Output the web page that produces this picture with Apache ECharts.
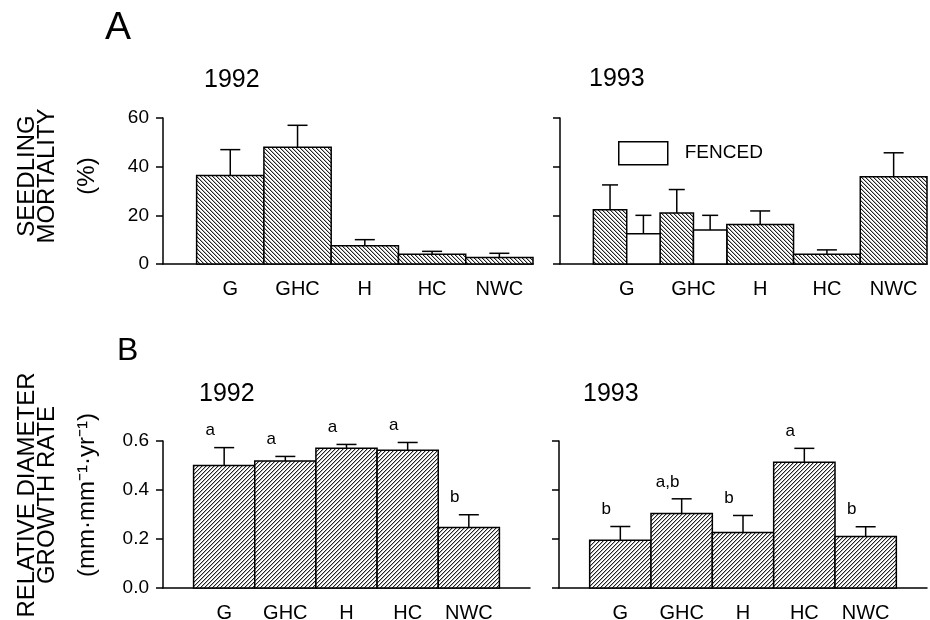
<!DOCTYPE html>
<html>
<head>
<meta charset="utf-8">
<script src="https://cdn.jsdelivr.net/npm/echarts@6/dist/echarts.min.js"></script>
<style>
  html, body { margin: 0; padding: 0; background: #fff; }
  #chart { width: 930px; height: 620px; }
</style>
</head>
<body>
<div id="chart"></div>
<script>
// categories and values
const categories = ['G', 'GHC', 'H', 'HC', 'NWC'];

// A: seedling mortality (%)
const mort92 = [36.4, 48.0, 7.5, 4.0, 2.7];
const mort92Err = [10.6, 9.0, 2.5, 1.2, 1.7];
const mort93 = [22.3, 21.0, 16.2, 4.0, 35.9];
const mort93Err = [10.2, 9.6, 5.6, 1.8, 9.8];
const fenced93 = [12.4, 14.0, null, null, null];
const fenced93Err = [7.6, 6.0, null, null, null];

// B: relative diameter growth rate
const growth92 = [0.500, 0.518, 0.570, 0.562, 0.247];
const growth92Err = [0.073, 0.019, 0.016, 0.032, 0.052];
const growth93 = [0.195, 0.304, 0.227, 0.513, 0.210];
const growth93Err = [0.056, 0.060, 0.069, 0.057, 0.040];
const letters92 = ['a', 'a', 'a', 'a', 'b'];
const letters93 = ['b', 'a,b', 'b', 'a', 'b'];

const FONT = '"Liberation Sans", Arial, Helvetica, sans-serif';

// diagonal hatch tile, dir 1 = "\\\\", dir -1 = "////"
function hatch(dir) {
    let c = document.createElement('canvas');
    c.width = 4; c.height = 4;
    let ctx = c.getContext('2d');
    ctx.fillStyle = '#fff';
    ctx.fillRect(0, 0, 4, 4);
    for (let i = 0; i < 4; i++) {
        let x = dir > 0 ? i : 3 - i;
        ctx.fillStyle = '#222';
        ctx.fillRect(x, i, 1, 1);
        ctx.fillStyle = '#b4b4b4';
        ctx.fillRect((x + 1) % 4, i, 1, 1);
    }
    return { image: c, repeat: 'repeat' };
}
const hatchBack = hatch(1);
const hatchFwd = hatch(-1);

// x extent of each bar (in category units)
function spans(split, part) {
    return categories.map((c, i) => {
        if (!split[i]) return [i - 0.5, i + 0.5];
        return part == 0 ? [i - 0.5, i] : [i, i + 0.5];
    });
}

function barSeries(name, axis, sp, values, errs, letters, fill) {
    let data = [];
    values.forEach((v, i) => {
        if (v == null) return;
        data.push([sp[i][0], sp[i][1], v, errs[i], i]);
    });
    return {
        type: 'custom',
        name: name,
        xAxisIndex: axis,
        yAxisIndex: axis,
        data: data,
        encode: { x: [0, 1], y: 2 },
        itemStyle: { color: fill.image ? '#888' : fill },
        renderItem: (params, api) => {
            let x0 = api.value(0), x1 = api.value(1), v = api.value(2), e = api.value(3);
            let idx = api.value(4);
            let p0 = api.coord([x0, v]);
            let p1 = api.coord([x1, 0]);
            let cx = (p0[0] + p1[0]) / 2;
            let pe = api.coord([(x0 + x1) / 2, v + e]);
            let w = p1[0] - p0[0];
            let cap = w > 50 ? 10 : 8;
            let children = [
                {
                    type: 'rect',
                    shape: { x: p0[0], y: p0[1], width: w, height: p1[1] - p0[1] },
                    style: { fill: fill, stroke: '#000', lineWidth: 1.5 }
                },
                {
                    type: 'line',
                    shape: { x1: cx, y1: p0[1], x2: cx, y2: pe[1] },
                    style: { stroke: '#000', lineWidth: 1.5 }
                },
                {
                    type: 'line',
                    shape: { x1: cx - cap, y1: pe[1], x2: cx + cap, y2: pe[1] },
                    style: { stroke: '#000', lineWidth: 1.5 }
                }
            ];
            if (letters) {
                children.push({
                    type: 'text',
                    style: {
                        text: letters[idx], x: cx - 14, y: pe[1] - 17,
                        align: 'center', verticalAlign: 'middle',
                        font: '17px ' + FONT, fill: '#000'
                    }
                });
            }
            return { type: 'group', children: children };
        }
    };
}

function xAxis(grid, max) {
    return {
        type: 'value', gridIndex: grid, min: -1, max: max, interval: 1,
        splitLine: { show: false },
        axisTick: { show: false },
        axisLine: { onZero: false, lineStyle: { color: '#000', width: 1.5 } },
        axisLabel: {
            margin: 15, color: '#000', fontSize: 20, fontFamily: FONT,
            formatter: (v) => (Number.isInteger(v) && v >= 0 && v < categories.length) ? categories[v] : ''
        }
    };
}

function yAxis(grid, max, interval, showLabels, name, shift, digits) {
    return {
        type: 'value', gridIndex: grid, min: 0, max: max, interval: interval,
        splitLine: { show: false },
        axisLine: { show: true, onZero: false, lineStyle: { color: '#000', width: 1.5 } },
        axisTick: { show: true, inside: false, length: 7, lineStyle: { color: '#000', width: 1.5 } },
        axisLabel: {
            show: showLabels, margin: 14, color: '#000', fontSize: 19, fontFamily: FONT,
            formatter: (v) => v.toFixed(digits)
        },
        name: name,
        nameLocation: 'middle',
        nameRotate: 90,
        nameGap: 66,
        nameTextStyle: {
            color: '#000', fontSize: 24, fontFamily: FONT, lineHeight: 20,
            padding: [0, 0, 0, shift]
        }
    };
}

let split93 = fenced93.map((v) => v != null);

let option = {
    animation: false,
    backgroundColor: '#fff',
    title: [
        { text: 'A', left: 105, top: 9, padding: 0, textStyle: { fontSize: 39, fontWeight: 'normal', color: '#000', fontFamily: FONT } },
        { text: 'B', left: 117, top: 335, padding: 0, textStyle: { fontSize: 32, fontWeight: 'normal', color: '#000', fontFamily: FONT } },
        { text: '1992', left: 204, top: 68, padding: 0, textStyle: { fontSize: 25, fontWeight: 'normal', color: '#000', fontFamily: FONT } },
        { text: '1993', left: 589, top: 67, padding: 0, textStyle: { fontSize: 25, fontWeight: 'normal', color: '#000', fontFamily: FONT } },
        { text: '1992', left: 199, top: 382, padding: 0, textStyle: { fontSize: 25, fontWeight: 'normal', color: '#000', fontFamily: FONT } },
        { text: '1993', left: 583, top: 382, padding: 0, textStyle: { fontSize: 25, fontWeight: 'normal', color: '#000', fontFamily: FONT } }
    ],
    legend: {
        data: ['FENCED'],
        left: 618, top: 141,
        padding: 0,
        icon: 'rect',
        itemWidth: 49, itemHeight: 23,
        selectedMode: false,
        itemStyle: { color: '#fff', borderColor: '#000', borderWidth: 1.5 },
        textStyle: { color: '#000', fontSize: 19, fontFamily: FONT, padding: [0, 0, 0, 12] }
    },
    grid: [
        { left: 163, top: 118, width: 370, height: 146, outerBoundsMode: 'none' },
        { left: 560, top: 118, width: 367, height: 146, outerBoundsMode: 'none' },
        { left: 163, top: 441, width: 367, height: 147, outerBoundsMode: 'none' },
        { left: 559, top: 441, width: 368, height: 147, outerBoundsMode: 'none' }
    ],
    xAxis: [xAxis(0, 4.5), xAxis(1, 4.5), xAxis(2, 5), xAxis(3, 5)],
    yAxis: [
        yAxis(0, 60, 20, true, 'SEEDLING\nMORTALITY\n\n(%)', 30, 0),
        yAxis(1, 60, 20, false, '', 0, 0),
        yAxis(2, 0.6, 0.2, true, 'RELATIVE DIAMETER\nGROWTH RATE\n\n(mm·mm⁻¹·yr⁻¹)', 39, 1),
        yAxis(3, 0.6, 0.2, false, '', 0, 1)
    ],
    series: [
        barSeries('1992 mortality', 0, spans([], 0), mort92, mort92Err, null, hatchBack),
        barSeries('1993 mortality', 1, spans(split93, 0), mort93, mort93Err, null, hatchBack),
        barSeries('FENCED', 1, spans(split93, 1), fenced93, fenced93Err, null, '#fff'),
        barSeries('1992 growth', 2, spans([], 0), growth92, growth92Err, letters92, hatchFwd),
        barSeries('1993 growth', 3, spans([], 0), growth93, growth93Err, letters93, hatchFwd)
    ]
};

let myChart = echarts.init(document.getElementById('chart'), null, { renderer: 'canvas' });
myChart.setOption(option);
</script>
</body>
</html>
